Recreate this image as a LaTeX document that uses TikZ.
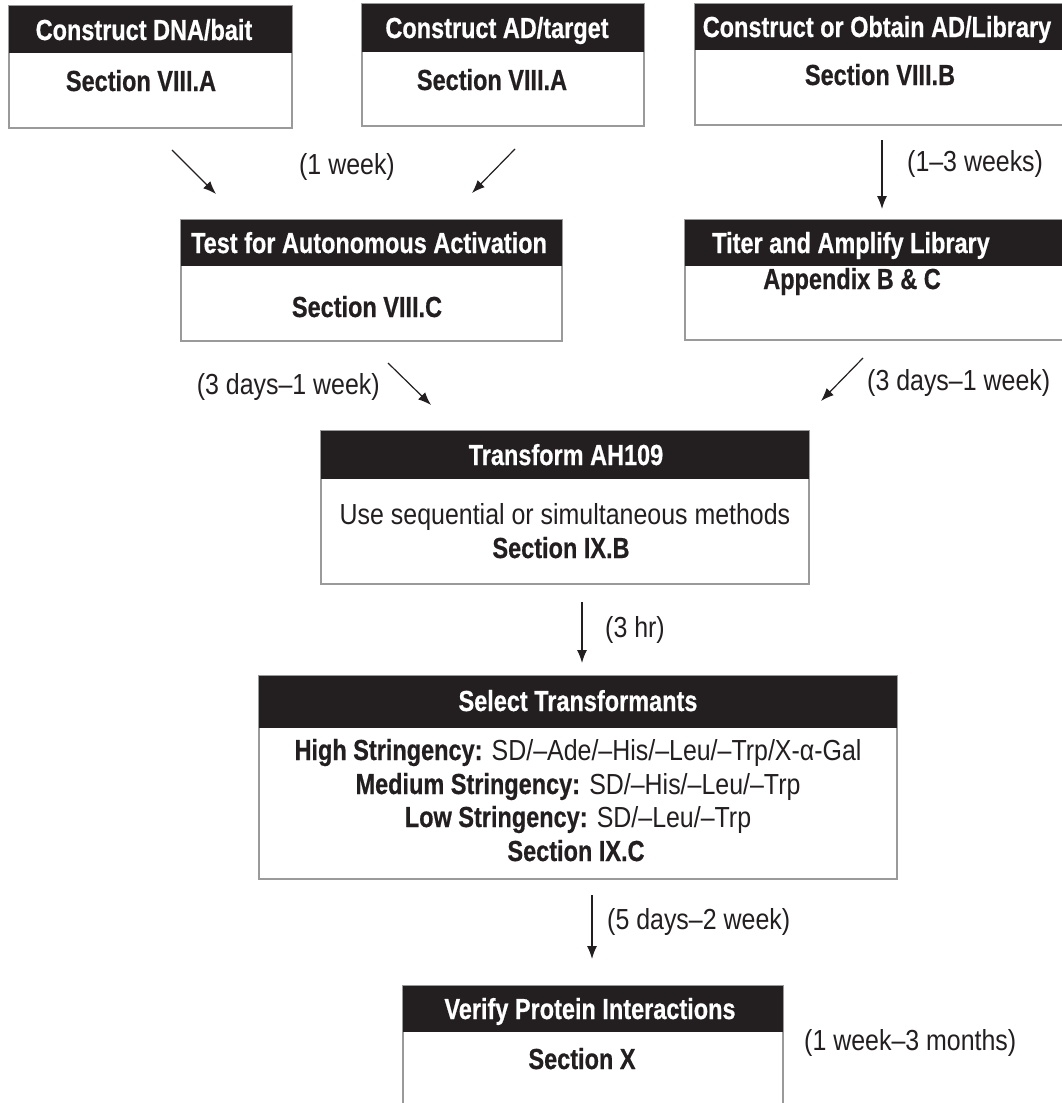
\documentclass[tikz,border=0pt]{standalone}
\usepackage{fontspec}
\setmainfont{Liberation Sans}[FakeStretch=0.86, BoldFeatures={FakeStretch=0.81,FakeBold=0.6}]
\usetikzlibrary{arrows.meta}
\definecolor{ink}{HTML}{231F20}
\definecolor{frame}{HTML}{9A9A9A}
\tikzset{
  box/.style={draw=frame, line width=1.6pt, fill=white, inner sep=0pt, outer sep=0pt},
  hdr/.style={fill=ink, inner sep=0pt, outer sep=0pt},
  htxt/.style={text=white, font=\bfseries\fontsize{29}{34}\selectfont, inner sep=0pt},
  btxt/.style={text=ink, font=\bfseries\fontsize{29}{34}\selectfont, inner sep=0pt},
  rtxt/.style={text=ink, font=\fontsize{29}{34}\selectfont, inner sep=0pt},
  arr/.style={draw=ink, line width=1.2pt, -{Latex[length=13pt,width=10pt]}},
}
\begin{document}
\begin{tikzpicture}[x=1pt,y=-1pt]
\clip (0,0) rectangle (1062,1103);
\fill[white] (0,0) rectangle (1062,1103);

% Box 1
\node[box, minimum width=283pt, minimum height=122pt] (b1) at (150.5,67) {};
\node[hdr, minimum width=283pt, minimum height=47pt, anchor=north] (b1h) at (b1.north) {};
\node[htxt, anchor=base] (b1t) at (144,40) {Construct DNA/bait};
\node[btxt, anchor=base] (b1s) at (141,91) {Section VIII.A};

% Box 2
\node[box, minimum width=282pt, minimum height=122pt] (b2) at (503,65) {};
\node[hdr, minimum width=282pt, minimum height=48pt, anchor=north] (b2h) at (b2.north) {};
\node[htxt, anchor=base] (b2t) at (497,38) {Construct AD/target};
\node[btxt, anchor=base] (b2s) at (492,90) {Section VIII.A};

% Box 3
\node[box, minimum width=380pt, minimum height=121pt] (b3) at (885,64.5) {};
\node[hdr, minimum width=380pt, minimum height=46pt, anchor=north] (b3h) at (b3.north) {};
\node[htxt, anchor=base] (b3t) at (877,37) {Construct or Obtain AD/Library};
\node[btxt, anchor=base] (b3s) at (880,85) {Section VIII.B};

% Box 4
\node[box, minimum width=381pt, minimum height=121pt] (b4) at (371.5,280.5) {};
\node[hdr, minimum width=381pt, minimum height=46pt, anchor=north] (b4h) at (b4.north) {};
\node[htxt, anchor=base] (b4t) at (369,253) {Test for Autonomous Activation};
\node[btxt, anchor=base] (b4s) at (367,317) {Section VIII.C};

% Box 5
\node[box, minimum width=390pt, minimum height=120pt] (b5) at (880,280) {};
\node[hdr, minimum width=390pt, minimum height=46pt, anchor=north] (b5h) at (b5.north) {};
\node[htxt, anchor=base] (b5t) at (851,253) {Titer and Amplify Library};
\node[btxt, anchor=base] (b5s) at (852,289) {Appendix B \& C};

% Box 6
\node[box, minimum width=488pt, minimum height=153pt] (b6) at (565,507.5) {};
\node[hdr, minimum width=488pt, minimum height=48pt, anchor=north] (b6h) at (b6.north) {};
\node[htxt, anchor=base] (b6t) at (566,465) {Transform AH109};
\node[rtxt, anchor=base] (b6a) at (565,524) {Use sequential or simultaneous methods};
\node[btxt, anchor=base] (b6s) at (561,558) {Section IX.B};

% Box 7
\node[box, minimum width=638pt, minimum height=203pt] (b7) at (578,777.5) {};
\node[hdr, minimum width=638pt, minimum height=52pt, anchor=north] (b7h) at (b7.north) {};
\node[htxt, anchor=base] (b7t) at (578,711) {Select Transformants};
\node[rtxt, anchor=base] (b7a) at (578,760) {\textbf{High Stringency:} SD/–Ade/–His/–Leu/–Trp/X-α-Gal};
\node[rtxt, anchor=base] (b7b) at (578,794) {\textbf{Medium Stringency:} SD/–His/–Leu/–Trp};
\node[rtxt, anchor=base] (b7c) at (578,827) {\textbf{Low Stringency:} SD/–Leu/–Trp};
\node[btxt, anchor=base] (b7s) at (576,861) {Section IX.C};

% Box 8
\node[box, minimum width=380pt, minimum height=140pt] (b8) at (593,1056) {};
\node[hdr, minimum width=380pt, minimum height=46pt, anchor=north] (b8h) at (b8.north) {};
\node[htxt, anchor=base] (b8t) at (590,1019) {Verify Protein Interactions};
\node[btxt, anchor=base] (b8s) at (582,1069) {Section X};

% Arrow end points
\coordinate (a1s) at (172,150); \coordinate (a1e) at (216,194);
\coordinate (a2s) at (515,149); \coordinate (a2e) at (472,193);
\coordinate (a3s) at (882,140); \coordinate (a3e) at (882,209);
\coordinate (a4s) at (388,363); \coordinate (a4e) at (431,405);
\coordinate (a5s) at (863,358); \coordinate (a5e) at (821,401);
\coordinate (a6s) at (582,602); \coordinate (a6e) at (582,663);
\coordinate (a7s) at (592,895); \coordinate (a7e) at (592,959);

\draw[arr] (a1s) -- (a1e);
\draw[arr] (a2s) -- (a2e);
\draw[arr] (a3s) -- (a3e);
\draw[arr] (a4s) -- (a4e);
\draw[arr] (a5s) -- (a5e);
\draw[arr] (a6s) -- (a6e);
\draw[arr] (a7s) -- (a7e);

% Duration labels
\node[rtxt, anchor=base] (l1) at (347,174) {(1 week)};
\node[rtxt, anchor=base west] (l2) at (907,171) {(1–3 weeks)};
\node[rtxt, anchor=base east] (l3) at (380,394) {(3 days–1 week)};
\node[rtxt, anchor=base west] (l4) at (867,390) {(3 days–1 week)};
\node[rtxt, anchor=base west] (l5) at (605,637) {(3 hr)};
\node[rtxt, anchor=base west] (l6) at (607,929) {(5 days–2 week)};
\node[rtxt, anchor=base west] (l7) at (804,1050) {(1 week–3 months)};
\end{tikzpicture}
\end{document}
